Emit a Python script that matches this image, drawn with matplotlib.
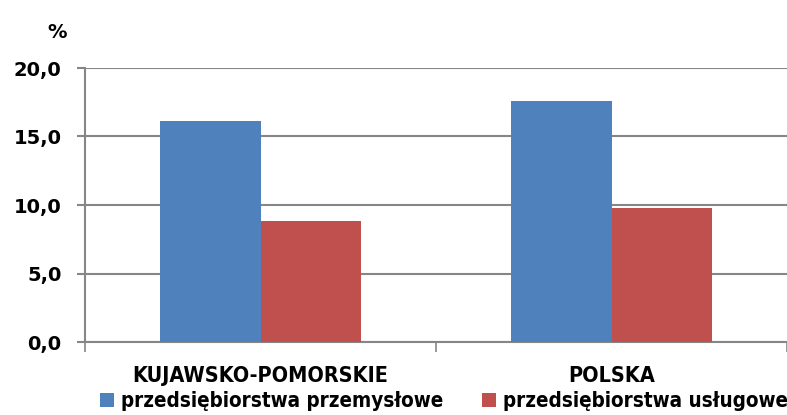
import matplotlib
matplotlib.use("Agg")
import matplotlib.pyplot as plt

categories = ["KUJAWSKO-POMORSKIE", "POLSKA"]
series_names = ["przedsiębiorstwa przemysłowe", "przedsiębiorstwa usługowe"]
przemyslowe = [16.1, 17.6]
uslugowe = [8.8, 9.8]
yticks = [0, 5, 10, 15, 20]
ytick_labels = ["0,0", "5,0", "10,0", "15,0", "20,0"]
colors = ["#4F81BD", "#C0504D"]

plt.rcParams['font.family'] = ['DejaVu Sans']

fig = plt.figure(figsize=(7.87, 4.15), dpi=100)
ax = fig.add_axes([85/787, 1-342/415, 1-85/787, (342-68)/415])

x = [0, 1]
w = 0.286
ax.bar([i - w/2 for i in x], przemyslowe, width=w, color=colors[0], label=series_names[0], zorder=3)
ax.bar([i + w/2 for i in x], uslugowe, width=w, color=colors[1], label=series_names[1], zorder=3)

ax.set_xlim(-0.5, 1.5)
ax.set_ylim(0, 20)
ax.set_yticks(yticks)
ax.set_yticklabels(ytick_labels, fontsize=14, fontweight='bold')
ax.yaxis.grid(True, color="#868686", linewidth=1.5, zorder=0)
ax.tick_params(axis='y', length=5.8, width=1.5, color="#868686", pad=11)

ax.set_xticks([-0.5, 0.5, 1.5])
ax.set_xticklabels([])
ax.tick_params(axis='x', which='major', length=7, width=1.2, color="#868686")
ax.set_xticks(x, minor=True)
ax.set_xticklabels(categories, minor=True, fontsize=15.5, fontweight='bold', fontstretch='condensed')
ax.tick_params(axis='x', which='minor', length=0, pad=17)

for s in ["top", "right"]:
    ax.spines[s].set_visible(False)
for s in ["left", "bottom"]:
    ax.spines[s].set_color("#868686")
    ax.spines[s].set_linewidth(1.5)

fig.text(57/787, 1-32/415, "%", fontsize=14, fontweight='bold', ha='center', va='center')

leg = fig.legend(loc='center', bbox_to_anchor=(444/787, 1-401/415), ncol=2, frameon=False,
                 prop={'size': 14.8, 'weight': 'bold', 'stretch': 'condensed'},
                 handlelength=0.65, handleheight=0.65,
                 handletextpad=0.35, columnspacing=1.9, borderaxespad=0)

fig.savefig("out.png", dpi=100)
